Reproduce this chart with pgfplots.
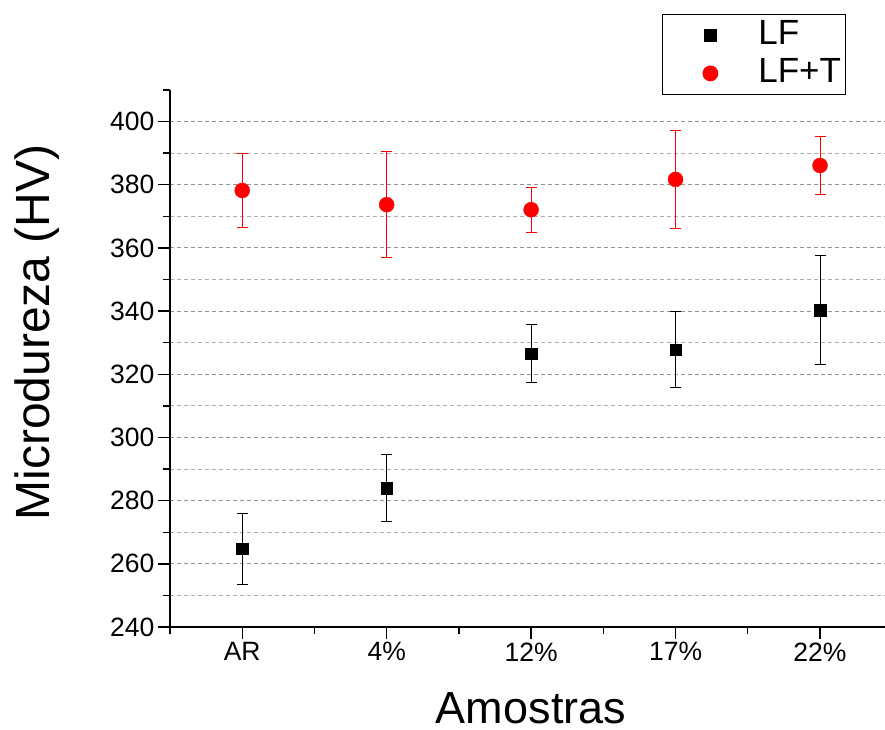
\documentclass[border=0pt]{standalone}
\usepackage{fontspec}
\setmainfont{Liberation Sans}
\usepackage{pgfplots}
\pgfplotsset{compat=1.18}
\pgfplotstableread{
x y e
1 264.7 11.2
2 284.0 10.6
3 326.6 9.2
4 327.8 12.0
5 340.3 17.2
}\lf
\pgfplotstableread{
x y e
1 378.2 11.8
2 373.7 16.7
3 372.1 7.1
4 381.7 15.6
5 386.1 9.1
}\lft
\begin{document}
\begin{tikzpicture}
\begin{axis}[
 scale only axis, width=715pt, height=537pt,
 xmin=0.5, xmax=5.45, ymin=240, ymax=410,
 axis x line=bottom, axis y line=left,
 axis line style={-, line width=1.6pt, black},
 xtick={1,2,3,4,5}, xticklabels={AR,4\%,12\%,17\%,22\%},
 minor xtick={0.5,1.5,2.5,3.5,4.5},
 ytick={240,260,...,400}, minor ytick={250,270,...,390},
 extra y ticks={410}, extra y tick labels={},
 extra y tick style={grid=none, major tick length=7pt},
 tick align=outside, major tick length=12pt, minor tick length=7pt,
 tick style={line width=1.4pt, black},
 ymajorgrids, yminorgrids,
 major grid style={dash pattern=on 4pt off 3pt, line width=1pt, gray!85},
 minor grid style={dash pattern=on 4pt off 3pt, line width=1pt, gray!65},
 /pgf/number format/assume math mode=true,
 tick label style={font=\fontsize{26.5}{26.5}\selectfont},
 xlabel={Amostras},
 xlabel style={font=\fontsize{45}{45}\selectfont, inner sep=0pt, at={(axis description cs:0.5049,-0.1788)}, anchor=base},
 ylabel={Microdureza (HV)},
 ylabel style={font=\fontsize{48}{48}\selectfont, at={(axis description cs:-0.1692,0.5484)}, anchor=base},
 legend style={at={(axis description cs:0.6881,1.1415)}, anchor=north west, draw=black, line width=0.8pt, fill=white,
   font=\fontsize{35}{35}\selectfont, inner xsep=2pt, inner ysep=2pt,
   nodes={inner sep=2pt, text height=26pt, text depth=8pt}, row sep=0pt},
 legend cell align=left,
 legend image code/.code={\path[draw=none,fill=none] (0pt,-4pt) rectangle (92pt,4pt); \draw[#1] plot coordinates {(46pt,0pt)};},
]
\coordinate (sw) at (rel axis cs:0,0);
\addplot[only marks, mark=square*, mark size=5.7pt, black,
  error bars/.cd, y dir=both, y explicit,
  error bar style={line width=1pt, black},
  error mark options={rotate=90, mark size=5.5pt, line width=1pt, black}]
  table[x=x, y=y, y error=e] {\lf};
\addlegendentry{LF}
\addplot[only marks, mark=*, mark size=7.5pt, red,
  error bars/.cd, y dir=both, y explicit,
  error bar style={line width=1pt, red},
  error mark options={rotate=90, mark size=5.5pt, line width=1pt, red}]
  table[x=x, y=y, y error=e] {\lft};
\addlegendentry{LF+T}
\end{axis}
\pgfresetboundingbox
\path (sw) ++(-170pt,-102pt) rectangle ++(885pt,729pt);
\end{tikzpicture}
\end{document}
